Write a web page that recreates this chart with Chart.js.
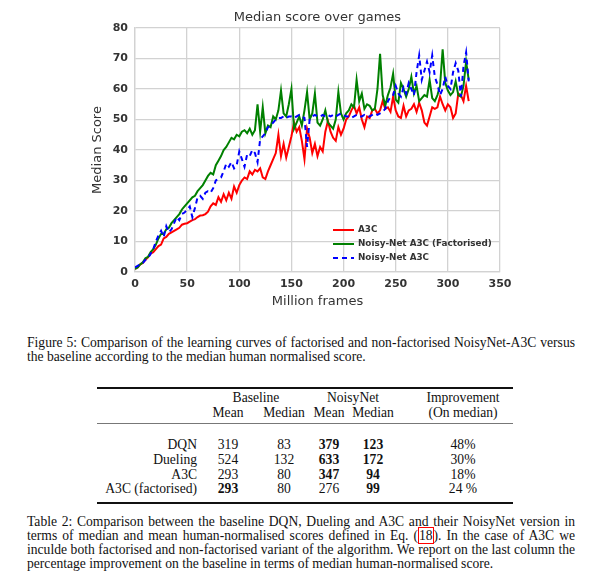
<!DOCTYPE html>
<html>
<head>
<meta charset="utf-8">
<script src="https://cdn.jsdelivr.net/npm/chart.js@4.4.0/dist/chart.umd.min.js"></script>
<style>
	body { margin: 0; background: #fff; width: 600px; height: 584px; position: relative; overflow: hidden; }
	#chartBox { position: absolute; left: 0; top: 0; width: 600px; height: 320px; }
	.txt { position: absolute; font-family: 'Liberation Serif', serif; font-size: 13.6px; line-height: 15px; color: #111; white-space: nowrap; }
	.cell { position: absolute; font-family: 'Liberation Serif', serif; font-size: 13.6px; line-height: 15px; color: #111; white-space: nowrap; width: 100px; text-align: center; }
	.rule { position: absolute; left: 97px; width: 416px; background: #111; }
	.ref { border: 1px solid #ff0000; }
</style>
</head>
<body>
<div id="chartBox"><canvas id="scoreChart" width="600" height="320"></canvas></div>
<div id="captions"></div>
<div id="table"></div>

<script>
/***************************** 차트 데이터 *****************************/
// x축 : Million frames
const frames = [
	0, 2.5, 5, 7.5, 10, 12.5, 15, 17.5, 20, 22.5,
	25, 27.5, 30, 32.5, 35, 37.5, 40, 42.5, 45, 47.5,
	50, 52.5, 55, 57.5, 60, 62.5, 65, 67.5, 70, 72.5,
	75, 77.5, 80, 82.5, 85, 87.5, 90, 92.5, 95, 97.5,
	100, 102.5, 105, 107.5, 110, 112.5, 115, 117.5, 120, 122.5,
	125, 127.5, 130, 132.5, 135, 137.5, 140, 142.5, 145, 147.5,
	150, 152.5, 155, 157.5, 160, 162.5, 165, 167.5, 170, 172.5,
	175, 177.5, 180, 182.5, 185, 187.5, 190, 192.5, 195, 197.5,
	200, 202.5, 205, 207.5, 210, 212.5, 215, 217.5, 220, 222.5,
	225, 227.5, 230, 232.5, 235, 237.5, 240, 242.5, 245, 247.5,
	250, 252.5, 255, 257.5, 260, 262.5, 265, 267.5, 270, 272.5,
	275, 277.5, 280, 282.5, 285, 287.5, 290, 292.5, 295, 297.5,
	300, 302.5, 305, 307.5, 310, 312.5, 315, 317.5, 320
]

// A3C
const a3c = [
	1, 1.5, 2.5, 3, 4, 4.8, 6, 6.5, 7.5, 8.5,
	9, 11, 11.5, 12.5, 13, 13.5, 14, 14.5, 15.5, 15.8,
	16, 16.5, 17, 17.3, 18, 18.5, 18.6, 19, 19.8, 21.5,
	22.5, 22, 24.5, 23, 25.5, 23.5, 26, 24, 28, 26,
	28.5, 30, 31, 30.5, 33, 32, 33.5, 33, 34, 31,
	30.5, 33, 35, 37, 39, 45, 38, 42, 37.5, 41,
	44.5, 49, 46, 47.5, 43, 37, 47, 44, 39, 42,
	38, 41, 39.5, 46, 49.5, 46, 44, 43, 47.5, 45,
	47, 50, 51, 53, 54.5, 52, 54, 50, 47.5, 51,
	50.5, 53, 53.5, 52, 53, 56, 53.5, 54, 52.5, 57.5,
	53, 51, 50.5, 54.5, 51, 53, 53.5, 55, 52.5, 55.5,
	53, 49, 48, 51, 54, 53.5, 54, 57.5, 55, 53,
	55, 54, 50.5, 52, 58.5, 58, 56, 61, 56
]

// Noisy-Net A3C (Factorised)
const noisyFact = [
	1, 1.5, 2.5, 3.2, 4.5, 5, 6.5, 7.5, 9, 11,
	12.5, 12.5, 14, 14.5, 16, 17, 18, 19, 20.5, 21.5,
	22.5, 23.5, 24.5, 25, 26.5, 27.5, 28.5, 30, 31.5, 32.5,
	32, 35, 36.5, 38, 40, 41, 42.5, 44, 43.5, 45,
	44.5, 46, 46.5, 45.5, 47, 45, 46.5, 55, 46, 54,
	45.5, 48, 47.5, 51, 50, 53, 59.5, 52, 51, 55,
	60, 47, 49, 51, 48, 53, 59, 50, 52, 58.5,
	49, 48, 50, 53, 49, 48, 47, 50, 59, 52,
	50, 52, 53, 55, 54, 63, 56, 58.5, 53.5, 55,
	54.5, 53, 53.5, 60, 71.5, 58, 54.5, 58, 60.5, 65,
	56.5, 55.5, 62, 60, 57.5, 60, 64, 58.5, 61, 56,
	57, 58, 57.5, 63, 57, 56, 58, 61, 73, 62,
	59.5, 58, 59, 62.5, 58, 57.5, 61, 69, 63
]

// Noisy-Net A3C
const noisyNet = [
	1.5, 2, 2.5, 3, 4, 4.5, 6, 7.5, 10, 12,
	13.5, 11.5, 15, 13, 14, 16, 18, 17, 19, 19.5,
	20.5, 21.5, 18, 21, 24.5, 25, 24, 26, 26.5, 26,
	27.5, 30, 30.5, 31, 33, 35.5, 34.5, 36, 34, 35,
	39.5, 37, 34.5, 38.5, 38, 40, 39, 36, 43.5, 44.5,
	45.5, 47.5, 48, 49, 50, 50.5, 50.5, 51, 50.5, 51,
	51, 50.5, 51, 51.5, 51, 50.5, 41, 50, 51, 51.5,
	51, 51, 51.5, 51, 51.5, 51, 51.5, 51, 51.5, 52,
	51.5, 51, 51, 50.5, 51, 51.5, 51, 51, 51.5, 51,
	51, 51.5, 52, 51.5, 52, 52.5, 53.5, 56, 57.5, 58,
	61, 58.5, 57.5, 60.5, 58.5, 62, 60, 58, 65.5, 71,
	63, 66, 69, 65.5, 71, 64, 61.5, 58, 60, 64,
	61, 60, 65.5, 68.5, 66, 57.5, 67.5, 72, 62.5
]

const xTickValues = [0, 50, 100, 150, 200, 250, 300, 350]
const yTickValues = [0, 10, 20, 30, 40, 50, 60, 70, 80]
const seriesLabels = ['A3C', 'Noisy-Net A3C (Factorised)', 'Noisy-Net A3C']

/***************************** 표 데이터 *****************************/
const rowNames = ['DQN', 'Dueling', 'A3C', 'A3C (factorised)']
const baseMean = ['319', '524', '293', '293']
const baseMedian = ['83', '132', '80', '80']
const noisyMean = ['379', '633', '347', '276']
const noisyMedian = ['123', '172', '94', '99']
const improvement = ['48%', '30%', '18%', '24 %']
// 굵게 표시되는 칸
const boldBaseMean = [false, false, false, true]
const boldNoisyMean = [true, true, true, false]
const boldNoisyMedian = [true, true, true, true]

/***************************** x,y 쌍 만들기 *****************************/
function toPoints(values) {
	let pts = []
	for (let i = 0; i < frames.length; i++) {
		pts.push({ x: frames[i], y: values[i] })
	}
	return pts
}

/***************************** 범례 (그래프 안쪽 오른쪽 아래) *****************************/
const innerLegend = {
	id: 'innerLegend',
	afterDatasetsDraw(chart) {
		const ctx = chart.ctx
		const area = chart.chartArea
		ctx.save()
		chart.data.datasets.forEach(function(ds, i) {
			let y = area.top + 202 + i * 14
			let x0 = area.left + 198
			ctx.beginPath()
			ctx.strokeStyle = ds.borderColor
			ctx.lineWidth = 2
			ctx.setLineDash(ds.borderDash || [])
			ctx.moveTo(x0, y)
			ctx.lineTo(x0 + 21, y)
			ctx.stroke()
			ctx.setLineDash([])
			ctx.fillStyle = '#333'
			ctx.font = 'bold 8.8px "DejaVu Sans"'
			ctx.textBaseline = 'middle'
			ctx.textAlign = 'left'
			ctx.fillText(ds.label, x0 + 25, y)
		})
		ctx.restore()
	}
}

/***************************** 차트 생성 *****************************/
Chart.defaults.font.family = '"DejaVu Sans", sans-serif'
const gridColor = '#d2d2d2'
const tickFont = { size: 11, weight: 'bold' }

var chartArea = document.getElementById('scoreChart').getContext('2d')

var scoreChart = new Chart(chartArea, {
	type: 'line',
	data: {
		datasets: [{
			label: seriesLabels[0],
			data: toPoints(a3c),
			borderColor: '#ff0000',
			borderWidth: 2,
			pointRadius: 0,
			order: 2
		}, {
			label: seriesLabels[1],
			data: toPoints(noisyFact),
			borderColor: '#008000',
			borderWidth: 2,
			pointRadius: 0,
			order: 1
		}, {
			label: seriesLabels[2],
			data: toPoints(noisyNet),
			borderColor: '#0000ff',
			borderWidth: 2,
			borderDash: [5, 4],
			pointRadius: 0,
			order: 0
		}]
	},
	options: {
		responsive: false,
		animation: false,
		layout: { padding: { left: 80, right: 100, top: 0, bottom: 0 } },
		plugins: {
			legend: { display: false },
			tooltip: { enabled: false },
			title: {
				display: true,
				text: 'Median score over games',
				fullSize: false,
				color: '#333',
				font: { size: 13, weight: 'normal' },
				padding: { top: 10, bottom: 2.4 }
			}
		},
		scales: {
			x: {
				type: 'linear',
				min: 0,
				max: 350,
				afterBuildTicks: function(scale) { scale.ticks = xTickValues.map(v => ({ value: v })) },
				afterFit: function(scale) { scale.height = 48 },
				ticks: { color: '#333', font: tickFont, padding: 6, maxRotation: 0 },
				grid: { color: gridColor, lineWidth: 1.3, drawTicks: false },
				border: { color: gridColor, width: 1.3 },
				title: {
					display: true,
					text: 'Million frames',
					color: '#333',
					font: { size: 13 },
					padding: { top: 0, bottom: 11 }
				}
			},
			y: {
				min: 0,
				max: 80,
				afterBuildTicks: function(scale) { scale.ticks = yTickValues.map(v => ({ value: v })) },
				afterFit: function(scale) { scale.width = 55 },
				ticks: { color: '#333', font: tickFont, padding: 7 },
				grid: { color: gridColor, lineWidth: 1.3, drawTicks: false },
				border: { color: gridColor, width: 1.3 },
				title: {
					display: true,
					text: 'Median Score',
					color: '#333',
					font: { size: 13 },
					padding: { top: 10, bottom: 0 }
				}
			}
		}
	},
	plugins: [innerLegend]
})

/***************************** 캡션 *****************************/
const fig5Lines = [
	'Figure 5: Comparison of the learning curves of factorised and non-factorised NoisyNet-A3C versus',
	'the baseline according to the median human normalised score.'
]
const table2Lines = [
	'Table 2: Comparison between the baseline DQN, Dueling and A3C and their NoisyNet version in',
	'terms of median and mean human-normalised scores defined in Eq. (<span class="ref">18</span>). In the case of A3C we',
	'inculde both factorised and non-factorised variant of the algorithm. We report on the last column the',
	'percentage improvement on the baseline in terms of median human-normalised score.'
]
const fig5Y = [343, 357]
const table2Y = [522, 536, 550, 564]

// 한 줄을 양쪽 정렬 (단어 간격 조절)
function putLine(html, y, justify) {
	let el = document.createElement('div')
	el.className = 'txt'
	el.innerHTML = html
	el.style.left = '27px'
	el.style.top = (y - 8) + 'px'
	document.getElementById('captions').appendChild(el)
	if (justify) {
		let natural = el.getBoundingClientRect().width
		let spaces = (el.textContent.match(/ /g) || []).length
		el.style.wordSpacing = ((548 - natural) / spaces) + 'px'
	}
}

fig5Lines.forEach((t, i) => putLine(t, fig5Y[i], i < fig5Lines.length - 1))
table2Lines.forEach((t, i) => putLine(t, table2Y[i], i < table2Lines.length - 1))

/***************************** 표 *****************************/
function putCell(text, cx, y, bold, align) {
	let el = document.createElement('div')
	el.className = 'cell'
	el.textContent = text
	el.style.top = (y - 8) + 'px'
	if (align === 'right') {
		el.style.width = '150px'
		el.style.left = (cx - 150) + 'px'
		el.style.textAlign = 'right'
	} else {
		el.style.left = (cx - 50) + 'px'
	}
	if (bold) el.style.fontWeight = 'bold'
	document.getElementById('table').appendChild(el)
}

function putRule(y, h, color) {
	let el = document.createElement('div')
	el.className = 'rule'
	el.style.top = y + 'px'
	el.style.height = h + 'px'
	el.style.background = color
	document.getElementById('table').appendChild(el)
}

const colX = [228, 284, 329, 373, 463]
const rowY = [445, 460, 475, 489]

putRule(387, 1.5, '#111')
putRule(423, 1, '#777')
putRule(502, 1.5, '#111')

putCell('Baseline', 256, 398)
putCell('NoisyNet', 353, 398)
putCell('Improvement', 463, 398)
putCell('Mean', colX[0], 413)
putCell('Median', colX[1], 413)
putCell('Mean', colX[2], 413)
putCell('Median', colX[3], 413)
putCell('(On median)', colX[4], 413)

for (let r = 0; r < rowNames.length; r++) {
	putCell(rowNames[r], 197, rowY[r], false, 'right')
	putCell(baseMean[r], colX[0], rowY[r], boldBaseMean[r])
	putCell(baseMedian[r], colX[1], rowY[r], false)
	putCell(noisyMean[r], colX[2], rowY[r], boldNoisyMean[r])
	putCell(noisyMedian[r], colX[3], rowY[r], boldNoisyMedian[r])
	putCell(improvement[r], colX[4], rowY[r], false)
}
</script>
</body>
</html>
